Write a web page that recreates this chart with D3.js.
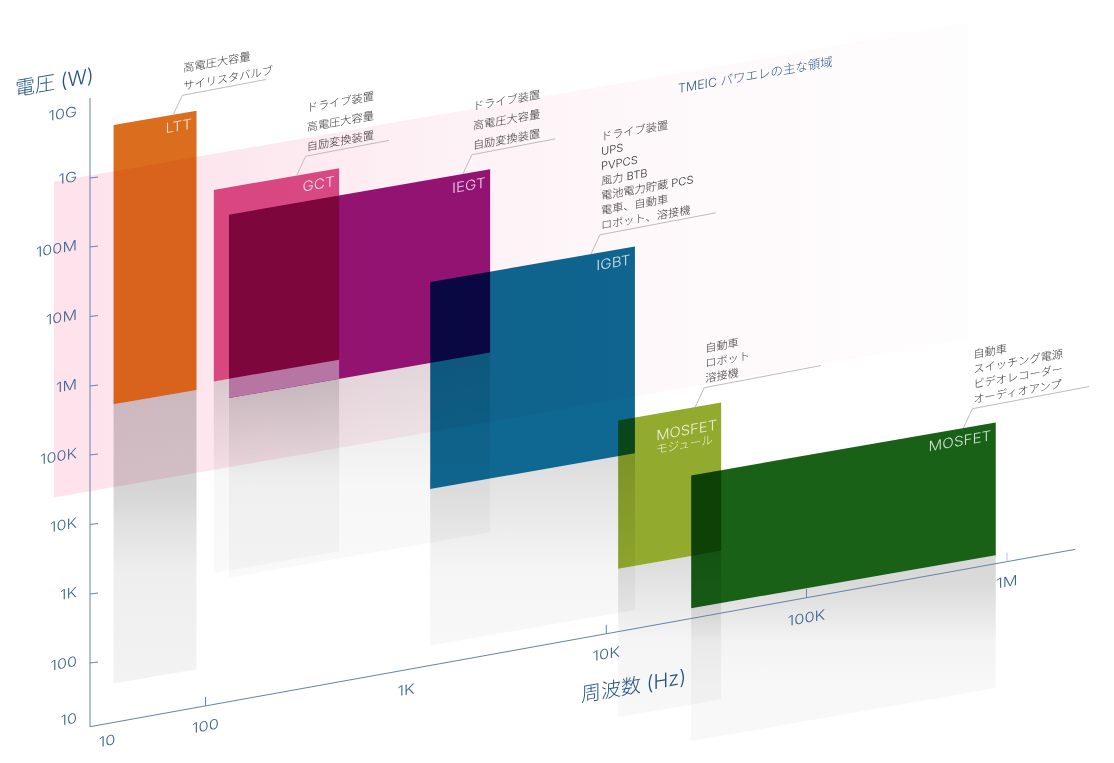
<!DOCTYPE html>
<html lang="ja"><head><meta charset="utf-8">
<script src="https://cdn.jsdelivr.net/npm/d3@7/dist/d3.min.js"></script>
<style>
html,body{margin:0;padding:0;background:#fff;overflow:hidden}
svg{display:block;background:#fff}
text{font-family:Inter,"Noto Sans CJK JP",sans-serif;font-weight:300}
.jp{font-family:Inter,"Noto Sans CJK JP",sans-serif;font-weight:300}
</style></head><body><svg id="c" width="1114" height="763"></svg>
<script>
// ---- data ----
const devices   = ["LTT","GCT","IEGT","IGBT","MOSFETモジュール","MOSFET"];
const freqMin   = [16, 110, 131, 1321, 11460, 26550];            // Hz
const freqMax   = [83.6, 464, 2630, 13900, 37470, 879000];       // Hz
const powerMin  = [473e3, 5.67e5, 2.99e5, 4570, 108, 16.5];      // W
const powerMax  = [5.1e9, 3.27e8, 1.31e8, 4.4e6, 14960, 1590];   // W
const panelColors = ["#da6e1e","#da4e89","#941477","#0f6892","#92aa2d","#186117"];
const shadowDepth = [1,1,0.98,0.757,1,1];
const shadowStops = [
  [[0,"#cdcdcd"],[.35,"#d5d5d5"],[.45,"#e0e0e0"],[.62,"#eeeeee"],[1,"#f3f3f3"]],
  [[0,"#d8d8d8"],[.55,"#f7f7f7"],[1,"#f9f9f9"]],
  [[0,"#e2e2e2"],[.6,"#f7f7f7"],[1,"#f9f9f9"]],
  [[0,"#dcdcdc"],[.6,"#f5f5f5"],[1,"#f8f8f8"]],
  [[0,"#dadada"],[.55,"#f5f5f5"],[1,"#f8f8f8"]],
  [[0,"#d8d8d8"],[.15,"#dadada"],[.46,"#f3f3f3"],[.7,"#f8f8f8"],[1,"#f8f8f8"]]
];
const applications = [
  ["高電圧大容量","サイリスタバルブ"],
  ["ドライブ装置","高電圧大容量","自励変換装置"],
  ["ドライブ装置","高電圧大容量","自励変換装置"],
  ["ドライブ装置","UPS","PVPCS","風力 BTB","電池電力貯蔵 PCS","電車、自動車","ロボット、溶接機"],
  ["自動車","ロボット","溶接機"],
  ["自動車","スイッチング電源","ビデオレコーダー","オーディオアンプ"]
];
const leaderFreq = [52.6, 285, 1923, 8380, 27800, 606000];
const regionFreq = [4.87, 641000];
const regionPower = [30000, 1.09e9];
const regionTitle = "TMEIC パワエレの主な領域";
const powerTicks = [1e2,1e3,1e4,1e5,1e6,1e7,1e8,1e9];
const powerLabels = ["10G","1G","100M","10M","1M","100K","10K","1K","100","10"];
const powerLabelValues = [1e10,1e9,1e8,1e7,1e6,1e5,1e4,1e3,1e2,10];
const freqTicks = [100,1e4,1e5,1e6];
const freqLabelValues = [10,100,1e3,1e4,1e5,1e6];
const freqLabels = ["10","100","1K","10K","100K","1M"];
const xAxisEnd = 2190000, yAxisEnd = 1.44e10;

// ---- scales (the axes are compressed in the first decade) ----
const x = d3.scaleLog().domain([10,100,1e3,1e4,1e5,1e6]).range([90,205.5,406,606.3,806.5,1007]);
const y = d3.scaleLog().domain([10,100,1e3,1e4,1e5,1e6,1e7,1e8,1e9,1e10])
  .range([726.7,663,594,524.5,455,386,316.5,247,178,109]);
const shear = 0.174, axisShear = 0.18;
const P = (f,v,s=shear)=>[x(f), y(v)-s*(x(f)-x(10))];
const pts = a=>a.map(p=>p.join(",")).join(" ");

const svg = d3.select("#c");
const defs = svg.append("defs");
svg.append("rect").attr("width",1114).attr("height",763).attr("fill","#fff");

const rg = defs.append("linearGradient").attr("id","region").attr("x1",0).attr("x2",1).attr("y1",0).attr("y2",0);
[[0,"#fee2ec"],[.2,"#fde7ee"],[.42,"#fdf1f6"],[.65,"#fef8fa"],[1,"#fefdfe"]]
  .forEach(s=>rg.append("stop").attr("offset",s[0]).attr("stop-color",s[1]));
shadowStops.forEach((st,i)=>{
  const g=defs.append("linearGradient").attr("id","sh"+i).attr("x1",0).attr("x2",0).attr("y1",0).attr("y2",1);
  st.forEach(s=>g.append("stop").attr("offset",s[0]).attr("stop-color",s[1]));
});

const idx = d3.range(devices.length);
const mult = "mix-blend-mode:multiply";

// shadows: mirror of each panel below its lower edge
svg.append("g").selectAll("polygon").data(idx).join("polygon")
  .attr("style",mult).attr("fill",i=>`url(#sh${i})`)
  .attr("points",i=>{
    const h=(y(powerMin[i])-y(powerMax[i]))*shadowDepth[i];
    const a=P(freqMin[i],powerMin[i]), b=P(freqMax[i],powerMin[i]);
    return pts([a,b,[b[0],b[1]+h],[a[0],a[1]+h]]);
  });

// region band
svg.append("polygon").attr("style",mult).attr("fill","url(#region)")
  .attr("points",pts([P(regionFreq[0],regionPower[1]),P(regionFreq[1],regionPower[1]),P(regionFreq[1],regionPower[0]),P(regionFreq[0],regionPower[0])]));

// device panels
svg.append("g").selectAll("polygon").data(idx).join("polygon")
  .attr("style",mult).attr("fill",i=>panelColors[i])
  .attr("points",i=>pts([P(freqMin[i],powerMax[i]),P(freqMax[i],powerMax[i]),P(freqMax[i],powerMin[i]),P(freqMin[i],powerMin[i])]));

// pale strip where IEGT runs under the lower edge of GCT
svg.append("polygon").attr("fill","#b675a3")
  .attr("points",pts([P(freqMin[2],powerMin[1]),P(freqMax[1],powerMin[1]),P(freqMax[1],powerMin[2]),P(freqMin[2],powerMin[2])]));

// helpers for skewed text
function label(t,px,py,o={}){
  return svg.append("text").text(t)
    .attr("transform",`translate(${px},${py}) skewY(${o.skew??-10}) scale(${o.sx??1},1)`)
    .attr("text-anchor",o.anchor||"start").attr("font-size",o.size||14)
    .attr("fill",o.fill||"#3f6490").attr("fill-opacity",o.op??1)
    .attr("class",o.cls||null);
}

// axes
const axisColor="#6483a8";
svg.append("line").attr("x1",x(10)).attr("x2",x(10)).attr("y1",y(10)).attr("y2",y(yAxisEnd)).attr("stroke",axisColor);
const ax0=P(10,10,axisShear), ax1=P(xAxisEnd,10,axisShear);
svg.append("line").attr("x1",ax0[0]).attr("y1",ax0[1]).attr("x2",ax1[0]).attr("y2",ax1[1]).attr("stroke",axisColor);
svg.append("g").selectAll("line").data(powerTicks).join("line")
  .attr("x1",x(10)).attr("x2",x(10)+8).attr("y1",d=>y(d)).attr("y2",d=>y(d)-1).attr("stroke",axisColor);
svg.append("g").selectAll("line").data(freqTicks).join("line")
  .attr("x1",d=>x(d)).attr("x2",d=>x(d))
  .attr("y1",d=>P(d,10,axisShear)[1]).attr("y2",d=>P(d,10,axisShear)[1]-9)
  .attr("stroke",d=>d===1e6?"#b4c5d6":axisColor);

powerLabelValues.forEach((v,i)=>{
  const nudge = v===10?-7:(v===1e10?4:0);
  label(powerLabels[i],77,y(v)+nudge+3,{anchor:"end",size:14,sx:1.16});
});
freqLabelValues.forEach((f,i)=>{
  const px = f===10?107:x(f);
  const py = P(f,10,axisShear)[1] + (f===10?22:25) - (f===10?3:0);
  label(freqLabels[i],px,py,{anchor:"middle",size:14,sx:1.18});
});
label("電圧 (W)",15,96,{size:20,fill:"#235285",cls:"jp"});
label("周波数 (Hz)",581,702,{size:20,fill:"#235285",cls:"jp"});
label(regionTitle,678,93,{size:12.5,fill:"#2d5a8c",cls:"jp"});

// panel names
[0,1,2,3,5].forEach(i=>{
  const r=P(freqMax[i],powerMax[i]);
  label(devices[i],r[0]-4.5,r[1]+18,{anchor:"end",size:14,sx:1.09,fill:"#fff",op:.8});
});
{
  const l=P(freqMin[4],powerMax[4]);
  label("MOSFET",l[0]+38,l[1]+20,{size:14,sx:1.06,fill:"#fff",op:.8});
  label("モジュール",l[0]+38,l[1]+33,{size:11.5,fill:"#fff",op:.8,cls:"jp"});
}

// leaders and application lists
const leaderReach=[84,83.3,83.3,116,116.7,116.7];
const lineGap=[18,19.5,19.5,14.8,15,15];
idx.forEach(i=>{
  const f=leaderFreq[i];
  const a=[x(f), y(powerMax[i])-shear*(x(f)-x(10))];
  const e=[a[0]+9,a[1]-19.3];
  const g=[e[0]+leaderReach[i],e[1]-leaderReach[i]*0.19];
  svg.append("polyline").attr("fill","none").attr("stroke","#bdbdbd").attr("points",pts([a,e,g]));
  const n=applications[i].length;
  applications[i].forEach((t,k)=>{
    label(t,e[0]+1,e[1]-5.5-(n-1-k)*lineGap[i],{size:11,sx:1.02,fill:"#333",cls:"jp"});
  });
});
</script></body></html>
